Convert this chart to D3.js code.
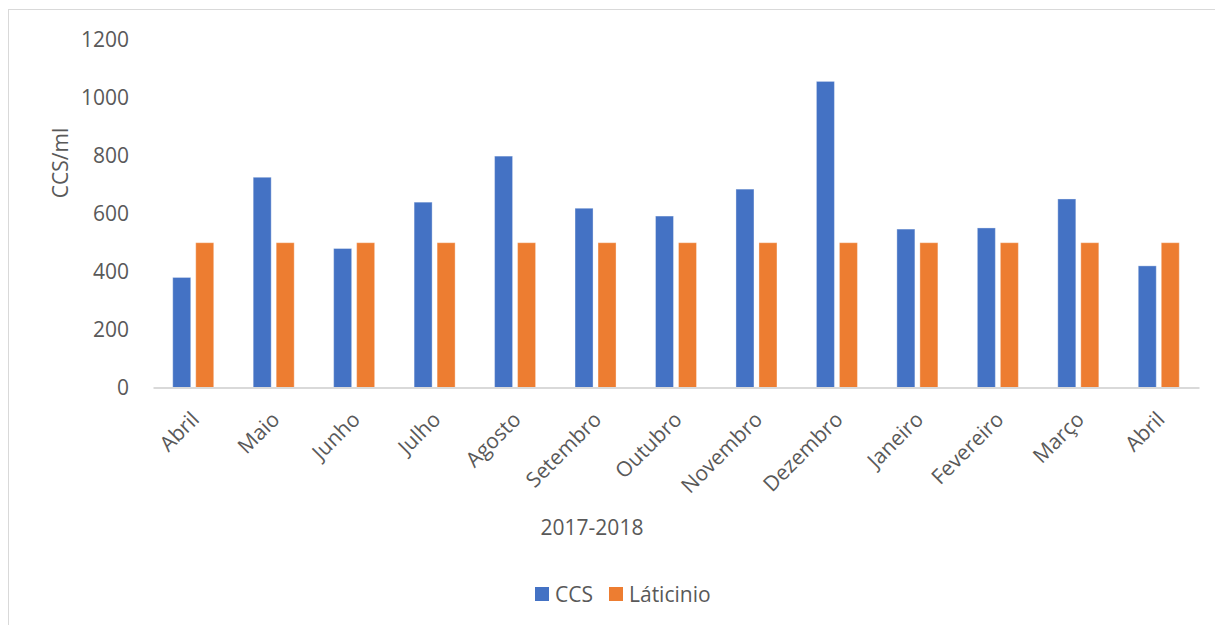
<!DOCTYPE html>
<html>
<head>
<meta charset="utf-8">
<script src="https://cdn.jsdelivr.net/npm/d3@7"></script>
<style>
  html, body { margin: 0; padding: 0; background: #fff; }
  svg { display: block; font-family: "Open Sans", "Noto Sans", sans-serif; }
</style>
</head>
<body>
<svg id="chart" width="1215" height="625"></svg>
<script>
const categories = ["Abril","Maio","Junho","Julho","Agosto","Setembro","Outubro","Novembro","Dezembro","Janeiro","Fevereiro","Março","Abril"];
const seriesNames = ["CCS","Láticinio"];
const ccsValues = [380, 726, 480, 640, 799, 619, 592, 685, 1057, 547, 551, 651, 420];
const laticinioValues = [500, 500, 500, 500, 500, 500, 500, 500, 500, 500, 500, 500, 500];
const yTicks = [0, 200, 400, 600, 800, 1000, 1200];
const colors = ["#4472C4", "#ED7D31"];
const yTitle = "CCS/ml";
const xTitle = "2017-2018";

(function () {
const svg = d3.select("#chart");
const textColor = "#595959";
const fontSize = 21;

// chart frame
svg.append("rect")
  .attr("x", 8.5).attr("y", 9.5)
  .attr("width", 1240).attr("height", 640)
  .attr("fill", "#fff").attr("stroke", "#d9d9d9").attr("stroke-width", 1);

const pLeft = 153, pRight = 1199, pTop = 40, pBottom = 387.5;

const idx = categories.map((d, i) => i);
const x = d3.scaleBand().domain(idx).range([pLeft, pRight])
  .paddingInner(0.4904).paddingOuter(0.4904 / 2);
const xs = d3.scaleBand().domain(seriesNames).range([0, x.bandwidth()])
  .paddingInner(0.2174).paddingOuter(0);
const y = d3.scaleLinear().domain([0, 1200]).range([pBottom, pTop]);

const data = [ccsValues, laticinioValues];

// bars
seriesNames.forEach((s, si) => {
  svg.append("g").selectAll("rect")
    .data(data[si])
    .join("rect")
    .attr("x", (d, i) => x(i) + xs(s))
    .attr("y", d => y(d))
    .attr("width", xs.bandwidth())
    .attr("height", d => y(0) - y(d))
    .attr("fill", colors[si])
    .attr("stroke", "#ffffff").attr("stroke-opacity", 0.35).attr("stroke-width", 1);
});

// y axis labels
const yAxis = d3.axisLeft(y).tickValues(yTicks).tickFormat(d3.format("d")).tickSize(0).tickPadding(24);
const yg = svg.append("g").attr("transform", `translate(${pLeft},0)`).call(yAxis);
yg.select(".domain").remove();
yg.selectAll("text")
  .attr("fill", textColor).style("font-size", fontSize + "px")
  .style("font-family", '"Open Sans", sans-serif');

// x axis
const xAxis = d3.axisBottom(x).tickSize(0).tickFormat(i => categories[i]);
const xg = svg.append("g").attr("transform", `translate(0,${pBottom})`).call(xAxis);
xg.select(".domain").attr("stroke", "#d9d9d9").attr("stroke-width", 2);
xg.selectAll(".tick text")
  .attr("fill", textColor).style("font-size", fontSize + "px")
  .style("font-family", '"Open Sans", sans-serif')
  .attr("text-anchor", "end")
  .attr("x", 0).attr("y", 0).attr("dy", "0.35em")
  .attr("transform", "translate(2,28) rotate(-45)");

// axis titles
svg.append("text")
  .attr("transform", "translate(68,163) rotate(-90)")
  .attr("text-anchor", "middle")
  .attr("fill", textColor).style("font-size", fontSize + "px")
  .text(yTitle);

svg.append("text")
  .attr("x", 592).attr("y", 535)
  .attr("text-anchor", "middle")
  .attr("fill", textColor).style("font-size", fontSize + "px")
  .text(xTitle);

// legend
const legendItems = [{name: seriesNames[0], x: 535, color: colors[0]}, {name: seriesNames[1], x: 609, color: colors[1]}];
const lg = svg.append("g");
legendItems.forEach(it => {
  lg.append("rect").attr("x", it.x).attr("y", 587).attr("width", 14).attr("height", 14).attr("fill", it.color);
  lg.append("text").attr("x", it.x + 20).attr("y", 601.5)
    .attr("fill", textColor).style("font-size", fontSize + "px").text(it.name);
});
})();
</script>
</body>
</html>
